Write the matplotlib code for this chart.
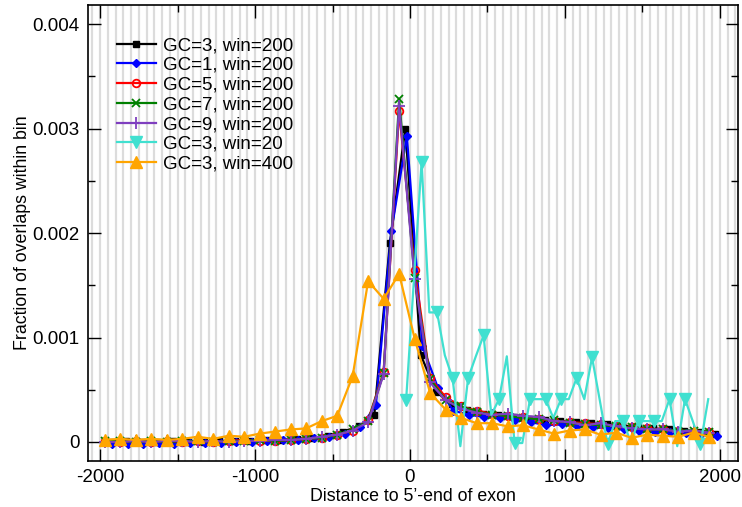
import numpy as np
import matplotlib
matplotlib.use("Agg")
import matplotlib.pyplot as plt
from matplotlib.ticker import MultipleLocator, FuncFormatter

plt.rcParams['font.family'] = ['Liberation Sans', 'DejaVu Sans']
plt.rcParams['axes.unicode_minus'] = False

# bin positions (distance to 5'-end of exon)
x_a = np.arange(-1970, 1931, 100)   # GC=5,7,9 win=200 and win=400
x_black = np.arange(-1930, 1971, 100)
x_blue = np.arange(-1920, 1981, 100)
x_win20 = np.arange(-25, 1926, 50)

gc5_w200 = [0.00001, 0.00000, 0.00001, 0.00000, 0.00001, 0.00000, 0.00001, 0.00000,
            0.00001, 0.00002, 0.00001, 0.00001, 0.00002, 0.00003, 0.00004, 0.00007,
            0.00011, 0.00021, 0.00067, 0.00317, 0.00165, 0.00061, 0.00043, 0.00034,
            0.00030, 0.00027, 0.00025, 0.00024, 0.00022, 0.00020, 0.00019, 0.00018,
            0.00017, 0.00015, 0.00014, 0.00013, 0.00012, 0.00011, 0.00010, 0.00010]
gc7_w200 = [0.00001, 0.00001, 0.00000, 0.00001, 0.00000, 0.00001, 0.00001, 0.00000,
            0.00001, 0.00001, 0.00002, 0.00001, 0.00002, 0.00003, 0.00004, 0.00007,
            0.00012, 0.00020, 0.00066, 0.00328, 0.00157, 0.00060, 0.00040, 0.00034,
            0.00029, 0.00026, 0.00025, 0.00023, 0.00022, 0.00021, 0.00018, 0.00017,
            0.00016, 0.00015, 0.00014, 0.00012, 0.00012, 0.00011, 0.00011, 0.00010]
gc9_w200 = [0.00000, 0.00000, 0.00001, 0.00000, 0.00001, 0.00001, 0.00000, 0.00001,
            0.00000, 0.00001, 0.00001, 0.00002, 0.00002, 0.00003, 0.00005, 0.00007,
            0.00011, 0.00019, 0.00065, 0.00322, 0.00156, 0.00057, 0.00040, 0.00032,
            0.00028, 0.00026, 0.00027, 0.00025, 0.00024, 0.00020, 0.00019, 0.00016,
            0.00018, 0.00015, 0.00013, 0.00012, 0.00012, 0.00010, 0.00011, 0.00009]
gc3_w200 = [0.00000, 0.00001, 0.00000, 0.00000, 0.00001, 0.00000, 0.00000, 0.00001,
            0.00001, 0.00001, 0.00002, 0.00002, 0.00003, 0.00004, 0.00006, 0.00010,
            0.00015, 0.00026, 0.00190, 0.00300, 0.00083, 0.00048, 0.00036, 0.00031,
            0.00027, 0.00026, 0.00024, 0.00022, 0.00021, 0.00020, 0.00019, 0.00018,
            0.00017, 0.00016, 0.00014, 0.00013, 0.00012, 0.00011, 0.00010, 0.00008]
gc1_w200 = [-0.00002, -0.00002, -0.00002, -0.00001, -0.00002, -0.00001, -0.00001, -0.00001,
            0.00000, 0.00000, 0.00001, 0.00002, 0.00002, 0.00004, 0.00005, 0.00008,
            0.00014, 0.00035, 0.00202, 0.00293, 0.00092, 0.00052, 0.00030, 0.00026,
            0.00024, 0.00023, 0.00021, 0.00019, 0.00016, 0.00017, 0.00015, 0.00014,
            0.00013, 0.00012, 0.00011, 0.00010, 0.00010, 0.00009, 0.00008, 0.00006]
gc3_w20 = [0.00040, 0.00154, 0.00268, 0.00124, 0.00124, 0.00083, 0.00061, -0.00004,
           0.00061, 0.00082, 0.00102, 0.00026, 0.00041, 0.00082, -0.00001, -0.00001,
           0.00041, 0.00041, 0.00041, 0.00023, 0.00041, 0.00041, 0.00061, 0.00041,
           0.00081, 0.00040, -0.00002, 0.00020, 0.00020, 0.00000, 0.00020, 0.00020,
           0.00020, 0.00020, 0.00041, -0.00004, 0.00041, 0.00020, -0.00002, 0.00041]
gc3_w400 = [0.00002, 0.00003, 0.00002, 0.00003, 0.00002, 0.00003, 0.00005, 0.00003,
            0.00006, 0.00005, 0.00008, 0.00010, 0.00012, 0.00013, 0.00020, 0.00025,
            0.00063, 0.00154, 0.00137, 0.00161, 0.00099, 0.00047, 0.00031, 0.00023,
            0.00018, 0.00018, 0.00015, 0.00016, 0.00012, 0.00008, 0.00011, 0.00012,
            0.00007, 0.00009, 0.00004, 0.00007, 0.00006, 0.00005, 0.00009, 0.00005]

fig = plt.figure(figsize=(7.42, 5.07), dpi=100)
ax = fig.add_axes([0.1186, 0.0907, 0.876, 0.899])

# light vertical grid every 50
for gx in np.arange(-2050, 2101, 50):
    ax.axvline(gx, color='#dcdcdc', lw=1.6, zorder=0)

lw = 1.6
ax.plot(x_black, gc3_w200, color='black', marker='s', ms=4.5, lw=lw, label='GC=3, win=200')
ax.plot(x_blue, gc1_w200, color='blue', marker='D', ms=4, lw=lw, label='GC=1, win=200')
ax.plot(x_a, gc5_w200, color='red', marker='o', ms=5.5, mfc='none', mew=1.3, lw=lw,
        label='GC=5, win=200')
ax.plot(x_a, gc7_w200, color='green', marker='x', ms=5.5, mew=1.3, lw=lw, label='GC=7, win=200')
ax.plot(x_a, gc9_w200, color='#7f3fbf', marker='+', ms=8, mew=1.3, lw=lw, label='GC=9, win=200')
ax.plot(x_win20, gc3_w20, color='#40e0d0', marker='v', ms=8, markevery=2, lw=lw,
        label='GC=3, win=20')
ax.plot(x_a, gc3_w400, color='orange', marker='^', ms=8.5, lw=lw, label='GC=3, win=400')

ax.set_xlim(-2078, 2117)
ax.set_ylim(-0.000182, 0.00418)

ax.xaxis.set_major_locator(MultipleLocator(1000))
ax.xaxis.set_minor_locator(MultipleLocator(500))
ax.yaxis.set_major_locator(MultipleLocator(0.001))
ax.yaxis.set_minor_locator(MultipleLocator(0.0005))
ax.yaxis.set_major_formatter(FuncFormatter(lambda v, p: '0' if abs(v) < 1e-12 else f'{v:.3f}'))
ax.tick_params(which='both', direction='in', top=True, right=True, labelsize=13.5)
ax.tick_params(which='major', length=9, width=1, pad=6)
ax.tick_params(which='minor', length=5, width=1)
for s in ax.spines.values():
    s.set_linewidth(1.2)

ax.set_xlabel("Distance to 5\u2019-end of exon", fontsize=12.8, labelpad=1)
ax.set_ylabel("Fraction of overlaps within bin", fontsize=12.8, labelpad=1)

ax.legend(loc='upper left', bbox_to_anchor=(0.027, 0.955), frameon=False, fontsize=13.5,
          handlelength=2.1, handletextpad=0.35, labelspacing=0.14, borderaxespad=0.2)

fig.savefig('out.png', dpi=100)
